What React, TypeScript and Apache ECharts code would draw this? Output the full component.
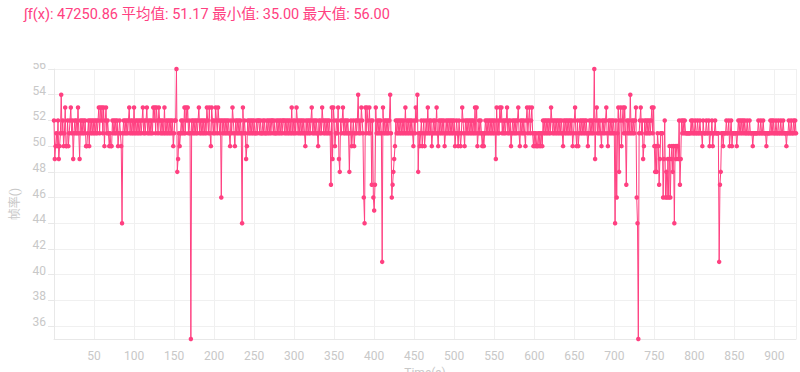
import React, { useEffect, useRef } from "react";
import * as echarts from "echarts";

const titleText = "∫f(x): 47250.86 平均值: 51.17 最小值: 35.00 最大值: 56.00";
const xAxisName = "Time(s)";
const yAxisName = "帧率()";

// frame rate samples, one per second, index = time (s)
const fps000 = [
  52, 49, 50, 51, 50, 52, 49, 50, 51, 54,
  51, 52, 50, 51, 53, 50, 50, 52, 50, 51,
  52, 53, 51, 52, 49, 51, 52, 51, 52, 51,
  53, 51, 49, 52, 51, 52, 51, 52, 51, 52,
  50, 50, 51, 52, 50, 52, 51, 52, 51, 52,
  51, 52, 51, 52, 51, 52, 53, 51, 53, 52,
  53, 51, 53, 50, 52, 53, 51, 52, 51, 50,
  51, 50, 50, 52, 51, 52, 51, 52, 51, 52,
  50, 51, 52, 51, 50, 44, 51, 52, 51, 52,
  51, 52, 51, 52, 53, 51, 52, 51, 52, 51,
];
const fps100 = [
  53, 51, 52, 51, 52, 51, 52, 51, 52, 51,
  52, 53, 51, 52, 51, 52, 53, 51, 52, 51,
  52, 51, 52, 51, 53, 52, 53, 51, 53, 52,
  51, 53, 52, 51, 52, 51, 52, 51, 53, 51,
  52, 51, 52, 51, 52, 51, 52, 51, 52, 50,
  51, 52, 52, 56, 48, 49, 51, 50, 51, 52,
  51, 52, 51, 53, 51, 53, 52, 53, 51, 52,
  51, 35, 52, 51, 52, 51, 52, 51, 52, 51,
  52, 53, 51, 52, 51, 52, 51, 52, 51, 52,
  51, 53, 52, 51, 53, 51, 50, 53, 52, 51,
];
const fps200 = [
  52, 51, 53, 52, 51, 53, 52, 51, 52, 46,
  52, 51, 52, 51, 52, 51, 52, 51, 52, 51,
  50, 52, 51, 53, 52, 51, 50, 52, 51, 52,
  51, 52, 51, 52, 51, 44, 53, 51, 52, 51,
  49, 50, 52, 51, 52, 51, 52, 51, 52, 51,
  52, 51, 51, 52, 51, 52, 52, 51, 52, 51,
  51, 52, 51, 52, 51, 51, 52, 51, 52, 51,
  52, 51, 52, 52, 51, 52, 51, 51, 52, 51,
  52, 51, 52, 51, 52, 51, 52, 52, 51, 52,
  51, 52, 51, 52, 51, 52, 51, 53, 51, 52,
];
const fps300 = [
  51, 52, 51, 53, 52, 51, 52, 51, 52, 51,
  52, 51, 52, 51, 50, 52, 51, 52, 51, 52,
  51, 52, 53, 51, 52, 51, 52, 51, 52, 51,
  50, 52, 51, 52, 51, 53, 52, 51, 52, 51,
  52, 51, 52, 51, 52, 51, 47, 53, 49, 53,
  52, 50, 51, 52, 51, 53, 49, 48, 52, 51,
  52, 53, 51, 52, 51, 52, 51, 52, 51, 48,
  51, 52, 50, 51, 52, 50, 51, 52, 51, 52,
  54, 51, 52, 51, 53, 52, 51, 46, 44, 53,
  51, 53, 52, 51, 53, 51, 52, 47, 52, 46,
];
const fps400 = [
  45, 47, 53, 51, 52, 51, 52, 51, 52, 51,
  41, 53, 51, 52, 51, 52, 51, 52, 51, 52,
  54, 51, 46, 47, 48, 49, 50, 52, 51, 52,
  51, 52, 51, 52, 51, 52, 51, 52, 51, 53,
  51, 52, 51, 52, 51, 52, 51, 52, 51, 50,
  52, 51, 53, 52, 54, 48, 51, 50, 51, 52,
  50, 51, 52, 50, 51, 52, 51, 53, 51, 52,
  51, 52, 50, 51, 52, 51, 52, 51, 53, 51,
  50, 52, 51, 52, 51, 52, 51, 52, 50, 51,
  52, 51, 52, 51, 52, 51, 52, 51, 52, 51,
];
const fps500 = [
  52, 50, 51, 52, 51, 50, 52, 51, 50, 51,
  53, 52, 51, 50, 52, 51, 52, 51, 52, 51,
  52, 51, 52, 51, 52, 51, 53, 51, 53, 50,
  51, 52, 51, 52, 51, 50, 51, 50, 51, 52,
  51, 52, 51, 52, 51, 52, 51, 52, 51, 52,
  51, 52, 49, 53, 51, 52, 51, 53, 52, 53,
  51, 52, 51, 52, 51, 52, 53, 51, 52, 51,
  52, 50, 51, 52, 51, 52, 51, 52, 51, 52,
  53, 51, 50, 52, 51, 52, 51, 52, 51, 50,
  52, 53, 51, 52, 53, 51, 52, 53, 51, 50,
];
const fps600 = [
  51, 50, 51, 50, 50, 51, 50, 51, 50, 51,
  50, 52, 51, 52, 51, 52, 51, 52, 51, 52,
  51, 53, 52, 51, 52, 51, 52, 51, 52, 51,
  52, 51, 52, 51, 52, 51, 50, 52, 51, 52,
  51, 52, 51, 52, 51, 52, 51, 52, 50, 51,
  52, 53, 51, 50, 52, 50, 51, 52, 51, 52,
  51, 52, 51, 52, 51, 52, 51, 50, 51, 52,
  51, 52, 51, 52, 51, 56, 49, 52, 53, 51,
  52, 51, 52, 51, 50, 52, 51, 52, 51, 52,
  53, 51, 50, 52, 51, 52, 51, 52, 51, 52,
];
const fps700 = [
  51, 44, 52, 46, 51, 53, 48, 52, 53, 50,
  52, 53, 51, 53, 51, 47, 52, 51, 52, 51,
  54, 51, 52, 51, 52, 51, 52, 53, 46, 44,
  35, 51, 52, 53, 51, 52, 49, 50, 52, 51,
  52, 51, 52, 51, 52, 51, 52, 53, 51, 53,
  50, 48, 50, 48, 51, 50, 47, 49, 51, 51,
  51, 46, 49, 52, 46, 48, 46, 49, 46, 50,
  46, 49, 50, 48, 50, 44, 50, 49, 50, 50,
  49, 52, 47, 49, 52, 51, 52, 51, 52, 51,
  51, 51, 51, 51, 51, 51, 52, 51, 52, 51,
];
const fps800 = [
  51, 52, 51, 51, 52, 51, 51, 52, 51, 51,
  50, 52, 51, 51, 51, 52, 51, 51, 52, 50,
  51, 51, 52, 50, 51, 51, 52, 51, 51, 51,
  51, 41, 47, 48, 51, 51, 50, 51, 51, 51,
  52, 51, 51, 52, 50, 51, 52, 50, 51, 51,
  51, 51, 51, 50, 51, 52, 51, 52, 51, 52,
  51, 52, 51, 52, 51, 51, 52, 51, 51, 52,
  51, 51, 51, 50, 51, 51, 51, 51, 51, 51,
  52, 51, 51, 52, 51, 51, 52, 51, 51, 51,
  50, 51, 51, 51, 51, 52, 51, 52, 51, 52,
];
const fps900 = [
  51, 51, 52, 51, 51, 52, 51, 51, 52, 51,
  51, 52, 51, 51, 51, 50, 51, 51, 52, 51,
  51, 52, 51, 51, 52, 51, 52, 51,
];

const PINK = "#ff4081";
const AXIS_TEXT = "#c8c8c8";

export default function App() {
  const ref = useRef<HTMLDivElement>(null);

  useEffect(() => {
    if (!ref.current) return;
    const chart = echarts.init(ref.current, undefined, { renderer: "svg" });
    const all = [
      ...fps000, ...fps100, ...fps200, ...fps300, ...fps400,
      ...fps500, ...fps600, ...fps700, ...fps800, ...fps900,
    ];
    const data = all.map((v, i) => [i, v]);
    const font = "Roboto, 'Noto Sans CJK SC', sans-serif";
    chart.setOption({
      animation: false,
      textStyle: { fontFamily: font },
      grid: {
        left: 54,
        right: 4,
        top: 6,
        bottom: 33,
        containLabel: false,
        outerBoundsMode: "none",
      },
      xAxis: {
        type: "value",
        min: 0,
        max: "dataMax",
        interval: 50,
        name: xAxisName,
        nameLocation: "middle",
        nameGap: 25,
        nameTextStyle: { color: AXIS_TEXT, fontSize: 12, fontFamily: font },
        axisLine: { show: true, lineStyle: { color: "#e8e8e8" } },
        axisTick: { show: false },
        axisLabel: {
          color: AXIS_TEXT,
          fontSize: 12,
          margin: 11,
          showMinLabel: false,
          showMaxLabel: false,
          fontFamily: font,
        },
        splitLine: { show: true, lineStyle: { color: "#f0f0f0" } },
      },
      yAxis: {
        type: "value",
        min: "dataMin",
        max: "dataMax",
        splitNumber: 10,
        name: yAxisName,
        nameLocation: "middle",
        nameGap: 33,
        nameTextStyle: { color: AXIS_TEXT, fontSize: 12, fontFamily: font },
        axisLine: { show: true, lineStyle: { color: "#e8e8e8" } },
        axisTick: { show: true, length: 6, lineStyle: { color: "#e8e8e8" } },
        axisLabel: {
          color: AXIS_TEXT,
          fontSize: 12,
          margin: 8,
          showMinLabel: false,
          verticalAlign: "bottom",
          lineHeight: 8,
          fontFamily: font,
        },
        splitLine: { show: true, lineStyle: { color: "#f0f0f0" } },
      },
      series: [
        {
          type: "line",
          data,
          symbol: "circle",
          symbolSize: 4.5,
          showSymbol: true,
          itemStyle: { color: PINK },
          lineStyle: { color: PINK, width: 1 },
        },
      ],
    });
    return () => chart.dispose();
  }, []);

  return (
    <div
      style={{
        position: "fixed",
        left: 0,
        top: 0,
        width: 800,
        height: 372,
        background: "#fff",
        overflow: "hidden",
      }}
    >
      <div
        style={{
          position: "absolute",
          left: 24,
          top: 5,
          fontSize: 14.5,
          lineHeight: "20px",
          color: PINK,
          whiteSpace: "nowrap",
          fontFamily: "Roboto, 'Noto Sans CJK SC', sans-serif",
        }}
      >
        {titleText}
      </div>
      <div
        ref={ref}
        style={{ position: "absolute", left: 0, top: 63, width: 800, height: 309 }}
      />
    </div>
  );
}
